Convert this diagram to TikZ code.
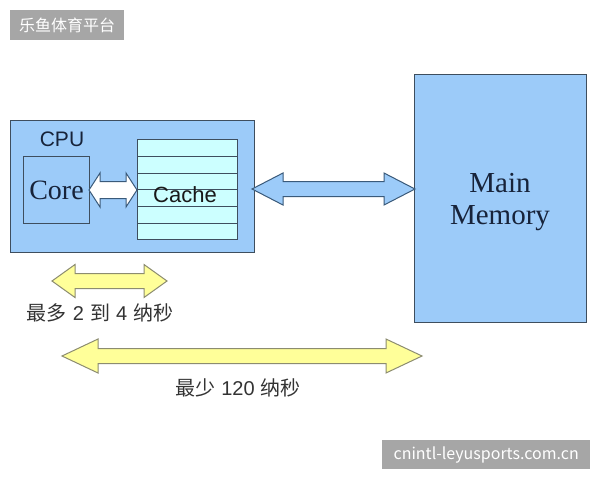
\documentclass[tikz,border=0pt]{standalone}
\usepackage{fontspec}
\setmainfont{Liberation Serif}
\setsansfont{Liberation Sans}
\newfontfamily\cjk{Noto Sans CJK SC}
\definecolor{boxblue}{HTML}{9CCBF9}
\definecolor{cachecyan}{HTML}{CCFFFF}
\definecolor{edgegray}{HTML}{3E4E5E}
\definecolor{arrowline}{HTML}{3A5A7A}
\definecolor{yellowfill}{HTML}{FFFF99}
\definecolor{yellowline}{HTML}{8C8C70}
\definecolor{navytext}{HTML}{17233A}
\definecolor{labelgray}{HTML}{A6A6A6}
\newcommand{\blockarrow}[7]{%
  \draw[#7] (#1,#3) -- (#1+#6,#3-#5) -- (#1+#6,#3-#4) -- (#2-#6,#3-#4) -- (#2-#6,#3-#5) -- (#2,#3)
   -- (#2-#6,#3+#5) -- (#2-#6,#3+#4) -- (#1+#6,#3+#4) -- (#1+#6,#3+#5) -- cycle;}
\tikzset{
  panel/.style={draw=edgegray, line width=1pt, fill=boxblue, anchor=north west, inner sep=0pt},
  tag/.style={fill=labelgray, text=white, inner sep=0pt, anchor=north west},
  cn/.style={font=\cjk\fontsize{20}{24}\selectfont, text=black!80},
}
\begin{document}
\begin{tikzpicture}[x=1pt,y=-1pt]
\useasboundingbox (0,0) rectangle (600,480);
\fill[white] (0,0) rectangle (600,480);
% top-left tag
\node[tag, minimum width=114pt, minimum height=30pt, font=\cjk\fontsize{16}{18}\selectfont] (tagtl) at (10,10) {乐鱼体育平台};
% CPU box
\node[panel, minimum width=244pt, minimum height=132pt] (cpu) at (10,120) {};
\node[font=\sffamily\fontsize{21}{24}\selectfont, text=navytext] (cpulabel) at (62,139) {CPU};
% Core
\node[panel, minimum width=66pt, minimum height=67pt, font=\rmfamily\fontsize{28}{30}\selectfont, text=navytext] (core) at (23,156) {Core};
% Cache
\node[draw=edgegray, line width=1pt, fill=cachecyan, anchor=north west, minimum width=100pt, minimum height=100pt, inner sep=0pt] (cache) at (137,139) {};
\foreach \yy in {156,173,189,206,223} \draw[edgegray, line width=0.9pt] (137,\yy) -- (237,\yy);
\node[font=\sffamily\fontsize{22}{24}\selectfont, text=black!90] (cachelabel) at (185,195) {Cache};
% Main memory
\node[panel, minimum width=172pt, minimum height=248pt] (mem) at (414,74) {};
\node[font=\rmfamily\fontsize{29}{32}\selectfont, text=navytext, align=center] (memlabel) at (500,202) {Main\\Memory};
% arrows
\blockarrow{89}{137}{190}{8.5}{17}{11}{draw=arrowline, fill=white, line width=1pt}
\blockarrow{252}{415}{189}{7.5}{16}{31}{draw=arrowline, fill=boxblue, line width=1pt}
\blockarrow{52}{167}{281}{7.5}{16.5}{23}{draw=yellowline, fill=yellowfill, line width=1pt}
\blockarrow{62}{422}{356}{7.5}{17}{36}{draw=yellowline, fill=yellowfill, line width=1pt}
% labels
\node[cn] (fast) at (100,313) {最多\hspace{0.3em}{\sffamily 2}\hspace{0.3em}到\hspace{0.3em}{\sffamily 4}\hspace{0.3em}纳秒};
\node[cn] (slow) at (238,388) {最少\hspace{0.3em}{\sffamily 120}\hspace{0.3em}纳秒};
% watermark
\node[tag, minimum width=208pt, minimum height=29pt, font=\cjk\fontsize{16}{18}\selectfont] (tagbr) at (382,440) {cnintl-leyusports.com.cn};
\end{tikzpicture}
\end{document}
